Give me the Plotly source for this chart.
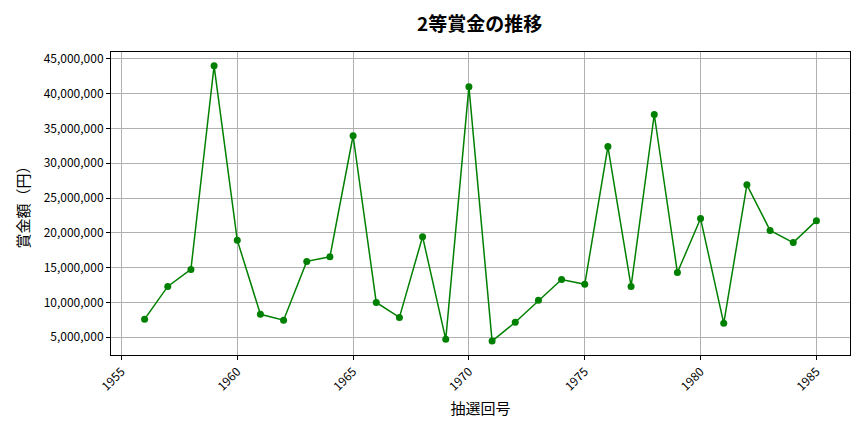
import plotly.graph_objects as go

# 抽選回号 (year) and 2等賞金 values
years = list(range(1956, 1986))
prize = [
    7600000, 12300000, 14750000, 44000000, 18950000,
    8300000, 7450000, 15900000, 16550000, 33950000,
    10000000, 7850000, 19450000, 4700000, 41000000,
    4450000, 7150000, 10300000, 13300000, 12600000,
    32400000, 12300000, 37000000, 14300000, 22050000,
    7000000, 26900000, 20350000, 18600000, 21750000,
]
ytick_vals = list(range(5000000, 45000001, 5000000))
ytick_text = ["{:,}".format(v) for v in ytick_vals]
xtick_vals = list(range(1955, 1986, 5))

font_name = "Noto Sans CJK JP"

fig = go.Figure()
fig.add_trace(go.Scatter(
    x=years, y=prize, mode="lines+markers",
    line=dict(color="green", width=1.5),
    marker=dict(color="green", size=7),
))

# page has an 8px body margin, so the figure is a bit smaller than the window
fig.update_layout(
    width=856, height=424,
    margin=dict(l=103, r=14, t=44, b=77),
    plot_bgcolor="white", paper_bgcolor="white",
    font=dict(family=font_name, color="black", size=12),
    showlegend=False,
    title=dict(text="<b>2等賞金の推移</b>", x=0.551, xanchor="center",
               y=0.962, yanchor="middle",
               font=dict(size=19, family=font_name)),
)
fig.update_xaxes(
    range=[1954.55, 1986.45], tickvals=xtick_vals, tickangle=-45,
    showgrid=True, gridcolor="#b0b0b0", gridwidth=1,
    showline=True, linecolor="black", linewidth=1, mirror=True,
    ticks="outside", ticklen=4, tickcolor="black", zeroline=False,
    title=dict(text="抽選回号", font=dict(size=15), standoff=10),
    tickfont=dict(size=12), automargin=False,
)
fig.update_yaxes(
    range=[2450000, 45980000], tickvals=ytick_vals, ticktext=ytick_text,
    showgrid=True, gridcolor="#b0b0b0", gridwidth=1,
    showline=True, linecolor="black", linewidth=1, mirror=True,
    ticks="outside", ticklen=4, tickcolor="black", zeroline=False,
    title=dict(text="賞金額（円）", font=dict(size=15), standoff=10),
    tickfont=dict(size=12), automargin=False,
)

fig.write_html("out.html")
